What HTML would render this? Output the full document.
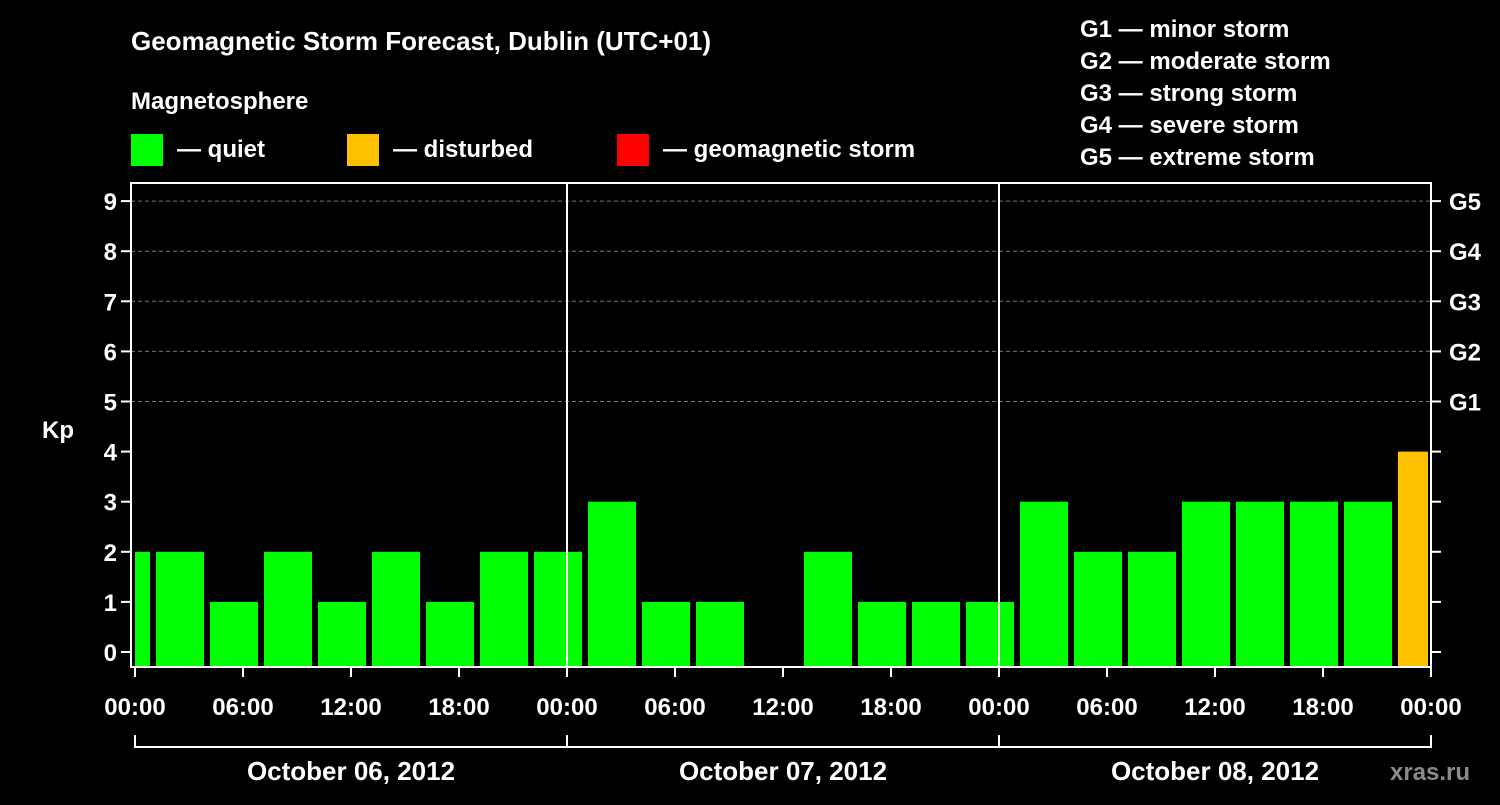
<!DOCTYPE html>
<html><head><meta charset="utf-8"><style>
body{margin:0;background:#000;width:1500px;height:800px;overflow:hidden}
svg text{font-family:"Liberation Sans",sans-serif;font-weight:bold;fill:#fff}
</style></head><body>
<svg id="chart" width="1500" height="800" xmlns="http://www.w3.org/2000/svg">
<text x="131" y="50" font-size="26">Geomagnetic Storm Forecast, Dublin (UTC+01)</text>
<text x="131" y="109" font-size="24">Magnetosphere</text>
<rect x="131" y="134" width="32" height="32" fill="#00ff00"/>
<text x="177" y="157" font-size="24">— quiet</text>
<rect x="347" y="134" width="32" height="32" fill="#ffc000"/>
<text x="393" y="157" font-size="24">— disturbed</text>
<rect x="617" y="134" width="32" height="32" fill="#ff0000"/>
<text x="663" y="157" font-size="24">— geomagnetic storm</text>
<g font-size="24">
<text x="1080" y="37">G1 — minor storm</text>
<text x="1080" y="69">G2 — moderate storm</text>
<text x="1080" y="101">G3 — strong storm</text>
<text x="1080" y="133">G4 — severe storm</text>
<text x="1080" y="165">G5 — extreme storm</text>
</g>
<text x="42" y="438" font-size="24">Kp</text>
<g id="plot"></g>
<text x="1390" y="780" font-size="24" fill="#888" style="fill:#8a8a8a">xras.ru</text>
</svg>
<script>
const kpValues = [2,2,1,2,1,2,1,2,2, 3,1,1,null,2,1,1,1, 3,2,2,3,3,3,3,4];
const barStartHours = [-2,1,4,7,10,13,16,19,22, 25,28,31,34,37,40,43,46, 49,52,55,58,61,64,67,70];
const kpTicks = [0,1,2,3,4,5,6,7,8,9];
const gLabels = ["G1","G2","G3","G4","G5"];
const timeLabels = ["00:00","06:00","12:00","18:00","00:00","06:00","12:00","18:00","00:00","06:00","12:00","18:00","00:00"];
const dateLabels = ["October 06, 2012","October 07, 2012","October 08, 2012"];

const NS="http://www.w3.org/2000/svg";
const g=document.getElementById('plot');
const X0=135, PXH=18, PL=131, PR=1431, PT=183, PB=667;
const xs=h=>X0+h*PXH;
const ys=v=>652-v*50.1;
function mk(tag,attrs,parent){const e=document.createElementNS(NS,tag);for(const k in attrs)e.setAttribute(k,attrs[k]);(parent||g).appendChild(e);return e;}

// gridlines 5..9
kpTicks.forEach(v=>{
  if(v>=5){const l=mk('line',{x1:PL,x2:PR,y1:ys(v),y2:ys(v),stroke:'#777','stroke-dasharray':'4,3','stroke-width':1});
  
  }
});
// bars
kpValues.forEach((v,i)=>{
  if(v===null)return;
  let x1=xs(barStartHours[i])+3, x2=xs(barStartHours[i]+3)-3;
  x1=Math.max(x1,X0); x2=Math.min(x2,PR-3);
  const r=mk('rect',{x:x1,y:ys(v),width:x2-x1,height:PB-ys(v),fill:v>=5?'#ff0000':(v>=4?'#ffc000':'#00ff00')});
  
  
});
// frame
const fr=mk('rect',{x:PL,y:PT,width:PR-PL,height:PB-PT,fill:'none',stroke:'#fff','stroke-width':2});


[24,48].forEach(h=>{const l=mk('line',{x1:xs(h),x2:xs(h),y1:PT,y2:PB,stroke:'#fff','stroke-width':2});

});
// y ticks
kpTicks.forEach(v=>{
  mk('line',{x1:PL-10,x2:PL,y1:ys(v),y2:ys(v),stroke:'#fff','stroke-width':2});
  mk('line',{x1:PR,x2:PR+10,y1:ys(v),y2:ys(v),stroke:'#fff','stroke-width':2});
  const t=mk('text',{x:PL-14,y:ys(v)+9,'font-size':24,'text-anchor':'end'});t.textContent=v;
  
  
});
gLabels.forEach((s,i)=>{
  const t=mk('text',{x:PR+18,y:ys(5+i)+9,'font-size':24});t.textContent=s;
  
  
});
// x ticks
timeLabels.forEach((s,i)=>{
  const x=xs(i*6);
  mk('line',{x1:x,x2:x,y1:PB,y2:PB+10,stroke:'#fff','stroke-width':2});
  const t=mk('text',{x:x,y:715,'font-size':24,'text-anchor':'middle'});t.textContent=s;
  
  
});
// date bracket
mk('line',{x1:xs(0),x2:xs(72),y1:747,y2:747,stroke:'#fff','stroke-width':2});
[0,24,48,72].forEach(h=>mk('line',{x1:xs(h),x2:xs(h),y1:735,y2:748,stroke:'#fff','stroke-width':2}));
dateLabels.forEach((s,i)=>{
  const t=mk('text',{x:xs(i*24+12),y:780,'font-size':26,'text-anchor':'middle'});t.textContent=s;
  
  
});
</script>
</body></html>
